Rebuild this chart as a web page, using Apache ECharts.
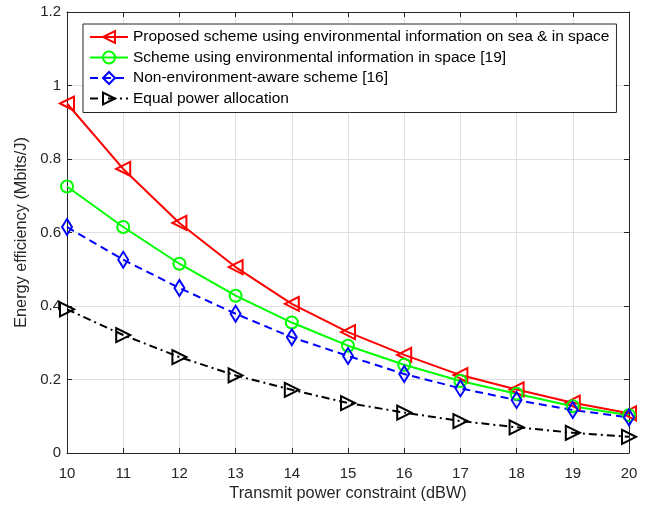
<!DOCTYPE html>
<html>
<head>
<meta charset="utf-8">
<script src="https://cdn.jsdelivr.net/npm/echarts@6/dist/echarts.min.js"></script>
<style>html,body{margin:0;padding:0;background:#fff}#c{width:652px;height:508px}</style>
</head>
<body>
<div id="c"></div>
<script>
const xs = [10, 11, 12, 13, 14, 15, 16, 17, 18, 19, 20];
const proposed = [0.951, 0.773, 0.626, 0.506, 0.406, 0.329, 0.267, 0.212, 0.173, 0.137, 0.108];
const spaceOnly = [0.725, 0.615, 0.515, 0.428, 0.355, 0.292, 0.240, 0.196, 0.161, 0.127, 0.103];
const nonEnv = [0.615, 0.526, 0.449, 0.379, 0.315, 0.264, 0.215, 0.176, 0.144, 0.117, 0.097];
const equalPower = [0.391, 0.321, 0.261, 0.211, 0.172, 0.136, 0.110, 0.087, 0.070, 0.055, 0.044];
const names = [
  'Proposed scheme using environmental information on sea & in space',
  'Scheme using environmental information in space [19]',
  'Non-environment-aware scheme [16]',
  'Equal power allocation'
];
const yTicks = [0, 0.2, 0.4, 0.6, 0.8, 1, 1.2];

const FONT = 'Liberation Sans, Arial, sans-serif';
const AX = '#262626';
function pairs(v) { return xs.map((x, i) => [x, v[i]]); }
function mk(name, data, color, symbol, size, rotate, ltype) {
  return {
    name, type: 'line', data: pairs(data), color: color,
    symbol, symbolSize: size, symbolRotate: rotate,
    lineStyle: { color, width: 2, type: ltype },
    itemStyle: { color: 'rgba(255,255,255,0)', borderColor: color, borderWidth: 2 },
    emphasis: { disabled: true }, animation: false, z: 3
  };
}
const chart = echarts.init(document.getElementById('c'), null, { renderer: 'canvas' });
const axisCommon = {
  axisLine: { show: true, onZero: false, lineStyle: { color: AX, width: 1 } },
  axisTick: { show: true, inside: true, length: 5, lineStyle: { color: AX } }
};
chart.setOption({
  animation: false,
  backgroundColor: '#fff',
  textStyle: { fontFamily: FONT },
  grid: { left: 67, right: 23, top: 12, bottom: 55 },
  legend: {
    orient: 'vertical', left: 83, top: 24, width: 520,
    backgroundColor: '#fff', borderColor: AX, borderWidth: 1,
    padding: [5, 7, 6, 6], itemGap: 4.5, itemWidth: 38, itemHeight: 15,
    textStyle: { fontFamily: FONT, fontSize: 15.5, color: '#000' },
    data: names
  },
  xAxis: [
    Object.assign({
      type: 'value', min: 10, max: 20, interval: 1, position: 'bottom',
      name: 'Transmit power constraint (dBW)', nameLocation: 'middle', nameGap: 31,
      nameTextStyle: { fontFamily: FONT, fontSize: 16.3, color: AX },
      axisLabel: { fontFamily: FONT, fontSize: 15, color: AX, margin: 13 },
      splitLine: { show: true, lineStyle: { color: '#dfdfdf', width: 1 } }
    }, axisCommon),
    Object.assign({
      type: 'value', min: 10, max: 20, interval: 1, position: 'top',
      axisLabel: { show: false }, splitLine: { show: false }
    }, axisCommon)
  ],
  yAxis: [
    Object.assign({
      type: 'value', min: 0, max: 1.2, interval: 0.2, position: 'left',
      name: 'Energy efficiency (Mbits/J)', nameLocation: 'middle', nameGap: 31,
      nameTextStyle: { fontFamily: FONT, fontSize: 16.3, color: AX },
      axisLabel: { fontFamily: FONT, fontSize: 15, color: AX, margin: 6,
        formatter: v => { const t = yTicks.find(k => Math.abs(k - v) < 1e-9); return t === undefined ? '' : String(t); } },
      splitLine: { show: true, lineStyle: { color: '#dfdfdf', width: 1 } }
    }, axisCommon),
    Object.assign({
      type: 'value', min: 0, max: 1.2, interval: 0.2, position: 'right',
      axisLabel: { show: false }, splitLine: { show: false }
    }, axisCommon)
  ],
  series: [
    mk(names[0], proposed, '#ff0000', 'triangle', 14, 90, 'solid'),
    mk(names[1], spaceOnly, '#00ff00', 'circle', 12, 0, 'solid'),
    mk(names[2], nonEnv, '#0000ff', 'diamond', [10, 16], 0, [8, 5]),
    mk(names[3], equalPower, '#000000', 'triangle', 14, -90, [8, 4, 2, 4])
  ]
});
</script>
</body>
</html>
